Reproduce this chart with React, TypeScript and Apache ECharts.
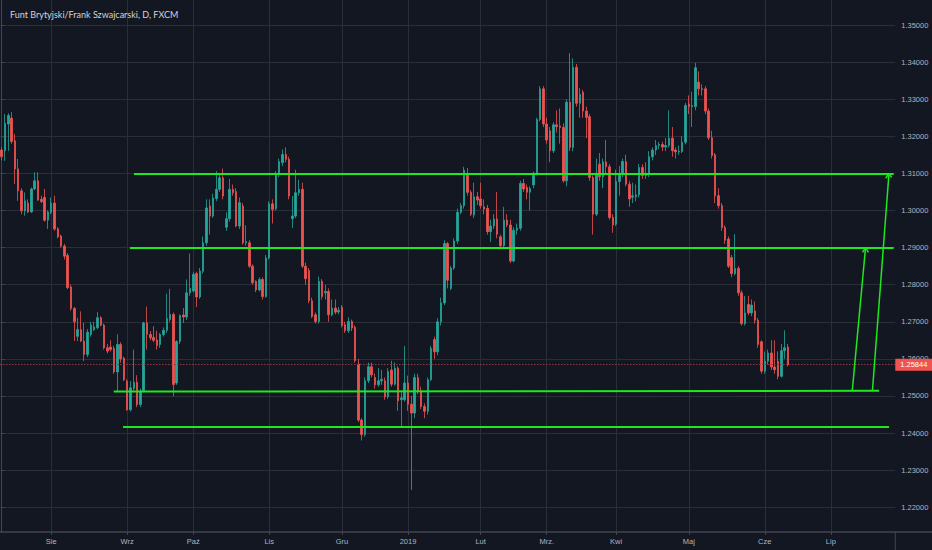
import React, { useEffect, useRef } from 'react';
import * as echarts from 'echarts';

const TITLE = 'Funt Brytyjski/Frank Szwajcarski, D, FXCM';
const START_DATE = '2018-07-11';
const MARKET_HOLIDAYS = ['2018-12-25', '2019-01-01'];
const CATEGORY_COUNT = 271;

const MONTH_TICK_DATES = ['2018-08-01', '2018-09-03', '2018-10-01', '2018-11-01', '2018-12-03', '2019-01-02', '2019-02-01', '2019-03-01', '2019-04-01', '2019-05-01', '2019-06-03', '2019-07-01'];
const MONTH_TICK_LABELS = ['Sie', 'Wrz', 'Paź', 'Lis', 'Gru', '2019', 'Lut', 'Mrz.', 'Kwi', 'Maj', 'Cze', 'Lip'];

const PRICE_TICKS = [1.22, 1.23, 1.24, 1.25, 1.26, 1.27, 1.28, 1.29, 1.3, 1.31, 1.32, 1.33, 1.34, 1.35];
const PRICE_MIN = 1.213342;
const PRICE_MAX = 1.356739;
const LAST_PRICE = 1.25844;

// [open, close, low, high]
const OHLC = [
  [1.3163, 1.3145, 1.3135, 1.3170], [1.3161, 1.3235, 1.3134, 1.3260], [1.3233, 1.3256, 1.3161, 1.3262], [1.3249, 1.3186, 1.3180, 1.3265],
  [1.3188, 1.3112, 1.3071, 1.3206], [1.3112, 1.3053, 1.3026, 1.3139], [1.3053, 1.2999, 1.2990, 1.3060], [1.2999, 1.3026, 1.2986, 1.3049],
  [1.3020, 1.2996, 1.2993, 1.3030], [1.2996, 1.3058, 1.2994, 1.3062], [1.3058, 1.3080, 1.3055, 1.3103], [1.3080, 1.3028, 1.3026, 1.3103],
  [1.3030, 1.3024, 1.3020, 1.3040], [1.3035, 1.2974, 1.2970, 1.3058], [1.2974, 1.2996, 1.2950, 1.3000], [1.2995, 1.3020, 1.2990, 1.3035],
  [1.3020, 1.2950, 1.2945, 1.3040], [1.2951, 1.2929, 1.2925, 1.2955], [1.2931, 1.2904, 1.2900, 1.2935], [1.2904, 1.2877, 1.2868, 1.2910],
  [1.2879, 1.2792, 1.2788, 1.2885], [1.2794, 1.2736, 1.2730, 1.2800], [1.2736, 1.2700, 1.2648, 1.2740], [1.2661, 1.2679, 1.2648, 1.2711],
  [1.2679, 1.2648, 1.2645, 1.2728], [1.2648, 1.2612, 1.2594, 1.2697], [1.2612, 1.2672, 1.2605, 1.2680], [1.2666, 1.2691, 1.2660, 1.2700],
  [1.2679, 1.2686, 1.2675, 1.2700], [1.2684, 1.2711, 1.2680, 1.2726], [1.2711, 1.2691, 1.2688, 1.2715], [1.2691, 1.2630, 1.2625, 1.2695],
  [1.2630, 1.2621, 1.2615, 1.2640], [1.2632, 1.2625, 1.2620, 1.2650], [1.2628, 1.2565, 1.2560, 1.2635], [1.2565, 1.2639, 1.2513, 1.2666],
  [1.2639, 1.2600, 1.2590, 1.2645], [1.2602, 1.2544, 1.2540, 1.2606], [1.2540, 1.2463, 1.2460, 1.2545], [1.2463, 1.2522, 1.2458, 1.2540],
  [1.2520, 1.2537, 1.2515, 1.2625], [1.2537, 1.2477, 1.2470, 1.2556], [1.2477, 1.2513, 1.2470, 1.2520], [1.2514, 1.2697, 1.2510, 1.2700],
  [1.2697, 1.2666, 1.2625, 1.2741], [1.2666, 1.2657, 1.2650, 1.2675], [1.2658, 1.2650, 1.2645, 1.2688], [1.2651, 1.2636, 1.2625, 1.2676],
  [1.2639, 1.2666, 1.2630, 1.2670], [1.2666, 1.2677, 1.2660, 1.2685], [1.2677, 1.2709, 1.2670, 1.2776], [1.2706, 1.2720, 1.2700, 1.2789],
  [1.2720, 1.2531, 1.2499, 1.2725], [1.2535, 1.2647, 1.2530, 1.2650], [1.2647, 1.2717, 1.2640, 1.2720], [1.2718, 1.2713, 1.2697, 1.2737],
  [1.2713, 1.2778, 1.2705, 1.2814], [1.2778, 1.2790, 1.2770, 1.2884], [1.2783, 1.2828, 1.2780, 1.2835], [1.2830, 1.2767, 1.2740, 1.2835],
  [1.2767, 1.2837, 1.2762, 1.2845], [1.2836, 1.2913, 1.2830, 1.2930], [1.2913, 1.3007, 1.2905, 1.3030], [1.3012, 1.2985, 1.2935, 1.3030],
  [1.2985, 1.3034, 1.2980, 1.3045], [1.3032, 1.3057, 1.3025, 1.3106], [1.3057, 1.3088, 1.3050, 1.3101], [1.3088, 1.3039, 1.3030, 1.3113],
  [1.2955, 1.2978, 1.2945, 1.2995], [1.2978, 1.3057, 1.2970, 1.3085], [1.3057, 1.3048, 1.3040, 1.3070], [1.3051, 1.2958, 1.2955, 1.3060],
  [1.2958, 1.3021, 1.2950, 1.3035], [1.3012, 1.2913, 1.2908, 1.3020], [1.2913, 1.2916, 1.2905, 1.2960], [1.2913, 1.2850, 1.2845, 1.2920],
  [1.2850, 1.2805, 1.2800, 1.2855], [1.2809, 1.2786, 1.2780, 1.2812], [1.2786, 1.2814, 1.2782, 1.2820], [1.2814, 1.2768, 1.2760, 1.2820],
  [1.2768, 1.2872, 1.2765, 1.2880], [1.2872, 1.3018, 1.2868, 1.3025], [1.3018, 1.3003, 1.2965, 1.3030], [1.3005, 1.3097, 1.3000, 1.3106],
  [1.3097, 1.3132, 1.3090, 1.3140], [1.3129, 1.3151, 1.3120, 1.3165], [1.3151, 1.3138, 1.3130, 1.3170], [1.3138, 1.3039, 1.3030, 1.3145],
  [1.2978, 1.2985, 1.2953, 1.3039], [1.2985, 1.3048, 1.2980, 1.3110], [1.3048, 1.3057, 1.3040, 1.3083], [1.3057, 1.2850, 1.2845, 1.3075],
  [1.2850, 1.2816, 1.2800, 1.2860], [1.2838, 1.2757, 1.2750, 1.2845], [1.2757, 1.2714, 1.2710, 1.2765], [1.2719, 1.2701, 1.2695, 1.2725],
  [1.2701, 1.2809, 1.2695, 1.2822], [1.2809, 1.2768, 1.2760, 1.2815], [1.2778, 1.2782, 1.2760, 1.2800], [1.2782, 1.2719, 1.2700, 1.2790],
  [1.2719, 1.2737, 1.2715, 1.2760], [1.2737, 1.2726, 1.2720, 1.2760], [1.2727, 1.2731, 1.2720, 1.2740], [1.2739, 1.2690, 1.2685, 1.2745],
  [1.2692, 1.2676, 1.2670, 1.2700], [1.2676, 1.2701, 1.2670, 1.2712], [1.2701, 1.2683, 1.2675, 1.2706], [1.2685, 1.2595, 1.2590, 1.2690],
  [1.2586, 1.2435, 1.2430, 1.2600], [1.2435, 1.2396, 1.2380, 1.2440], [1.2396, 1.2541, 1.2390, 1.2550], [1.2541, 1.2579, 1.2535, 1.2590],
  [1.2579, 1.2557, 1.2550, 1.2590], [1.2550, 1.2530, 1.2520, 1.2560], [1.2530, 1.2541, 1.2525, 1.2575], [1.2541, 1.2545, 1.2530, 1.2570],
  [1.2541, 1.2498, 1.2490, 1.2550], [1.2498, 1.2566, 1.2492, 1.2575], [1.2570, 1.2532, 1.2525, 1.2595], [1.2532, 1.2575, 1.2528, 1.2590],
  [1.2575, 1.2487, 1.2460, 1.2580], [1.2490, 1.2495, 1.2414, 1.2510], [1.2490, 1.2535, 1.2485, 1.2635], [1.2535, 1.2478, 1.2460, 1.2555],
  [1.2478, 1.2454, 1.2247, 1.2500], [1.2454, 1.2550, 1.2440, 1.2560], [1.2550, 1.2514, 1.2505, 1.2560], [1.2514, 1.2472, 1.2465, 1.2525],
  [1.2472, 1.2459, 1.2440, 1.2480], [1.2459, 1.2544, 1.2450, 1.2550], [1.2544, 1.2628, 1.2540, 1.2635], [1.2652, 1.2619, 1.2600, 1.2660],
  [1.2619, 1.2700, 1.2610, 1.2710], [1.2700, 1.2751, 1.2690, 1.2765], [1.2751, 1.2911, 1.2745, 1.2920], [1.2911, 1.2812, 1.2790, 1.2915],
  [1.2790, 1.2845, 1.2785, 1.2850], [1.2845, 1.2918, 1.2840, 1.2925], [1.2918, 1.2995, 1.2910, 1.3005], [1.2995, 1.3013, 1.2990, 1.3020],
  [1.3013, 1.3109, 1.3005, 1.3118], [1.3098, 1.3049, 1.3040, 1.3115], [1.3049, 1.2990, 1.2985, 1.3055], [1.2988, 1.3037, 1.2980, 1.3075],
  [1.3037, 1.3028, 1.3015, 1.3050], [1.3031, 1.3013, 1.3005, 1.3075], [1.3010, 1.3004, 1.2990, 1.3030], [1.3006, 1.2943, 1.2935, 1.3015],
  [1.2943, 1.2958, 1.2915, 1.2975], [1.2958, 1.2977, 1.2950, 1.2990], [1.2977, 1.2936, 1.2925, 1.3050], [1.2929, 1.2905, 1.2895, 1.2935],
  [1.2905, 1.2974, 1.2900, 1.3010], [1.2974, 1.2961, 1.2955, 1.2990], [1.2961, 1.2864, 1.2858, 1.2975], [1.2864, 1.2947, 1.2860, 1.2955],
  [1.2947, 1.2952, 1.2935, 1.2965], [1.2952, 1.3073, 1.2945, 1.3080], [1.3073, 1.3058, 1.3050, 1.3085], [1.3062, 1.3049, 1.3030, 1.3070],
  [1.3049, 1.3059, 1.3000, 1.3065], [1.3069, 1.3100, 1.3060, 1.3105], [1.3100, 1.3245, 1.3095, 1.3250], [1.3245, 1.3328, 1.3240, 1.3335],
  [1.3328, 1.3233, 1.3225, 1.3335], [1.3233, 1.3190, 1.3180, 1.3250], [1.3215, 1.3161, 1.3130, 1.3225], [1.3161, 1.3231, 1.3155, 1.3238],
  [1.3231, 1.3226, 1.3210, 1.3270], [1.3228, 1.3224, 1.3180, 1.3275], [1.3224, 1.3080, 1.3075, 1.3235], [1.3080, 1.3292, 1.3065, 1.3300],
  [1.3292, 1.3170, 1.3160, 1.3424], [1.3170, 1.3386, 1.3160, 1.3410], [1.3386, 1.3289, 1.3280, 1.3395], [1.3289, 1.3313, 1.3250, 1.3330],
  [1.3319, 1.3268, 1.3250, 1.3325], [1.3268, 1.3251, 1.3195, 1.3280], [1.3253, 1.3089, 1.3080, 1.3260], [1.3089, 1.2990, 1.2935, 1.3095],
  [1.2990, 1.3100, 1.2985, 1.3140], [1.3125, 1.3091, 1.3080, 1.3155], [1.3091, 1.3131, 1.3060, 1.3140], [1.3131, 1.3118, 1.3100, 1.3190],
  [1.3118, 1.2981, 1.2975, 1.3125], [1.2981, 1.2961, 1.2940, 1.2990], [1.2963, 1.3078, 1.2958, 1.3110], [1.3078, 1.3100, 1.3040, 1.3120],
  [1.3100, 1.3132, 1.3090, 1.3140], [1.3132, 1.3071, 1.3065, 1.3150], [1.3071, 1.3031, 1.3010, 1.3080], [1.3036, 1.3040, 1.3020, 1.3075],
  [1.3037, 1.3042, 1.3025, 1.3070], [1.3042, 1.3116, 1.3035, 1.3125], [1.3116, 1.3094, 1.3085, 1.3125], [1.3094, 1.3098, 1.3085, 1.3130],
  [1.3098, 1.3145, 1.3090, 1.3160], [1.3145, 1.3163, 1.3135, 1.3170], [1.3163, 1.3175, 1.3150, 1.3190], [1.3175, 1.3178, 1.3165, 1.3185],
  [1.3178, 1.3171, 1.3160, 1.3185], [1.3171, 1.3175, 1.3160, 1.3195], [1.3175, 1.3195, 1.3170, 1.3270], [1.3195, 1.3161, 1.3145, 1.3225],
  [1.3163, 1.3158, 1.3140, 1.3170], [1.3158, 1.3160, 1.3150, 1.3175], [1.3159, 1.3184, 1.3155, 1.3200], [1.3184, 1.3283, 1.3178, 1.3290],
  [1.3287, 1.3280, 1.3260, 1.3310], [1.3280, 1.3283, 1.3225, 1.3320], [1.3280, 1.3385, 1.3270, 1.3398], [1.3346, 1.3328, 1.3310, 1.3375],
  [1.3328, 1.3326, 1.3310, 1.3340], [1.3328, 1.3268, 1.3260, 1.3335], [1.3268, 1.3196, 1.3190, 1.3275], [1.3196, 1.3148, 1.3140, 1.3215],
  [1.3150, 1.3040, 1.3020, 1.3155], [1.3040, 1.3013, 1.3005, 1.3060], [1.3013, 1.2954, 1.2945, 1.3020], [1.2954, 1.2920, 1.2910, 1.2960],
  [1.2923, 1.2850, 1.2845, 1.2930], [1.2873, 1.2830, 1.2820, 1.2880], [1.2830, 1.2844, 1.2825, 1.2936], [1.2844, 1.2778, 1.2770, 1.2850],
  [1.2778, 1.2695, 1.2690, 1.2785], [1.2695, 1.2724, 1.2690, 1.2770], [1.2747, 1.2724, 1.2718, 1.2770], [1.2724, 1.2745, 1.2715, 1.2760],
  [1.2729, 1.2704, 1.2695, 1.2755], [1.2704, 1.2639, 1.2630, 1.2710], [1.2646, 1.2567, 1.2560, 1.2650], [1.2567, 1.2594, 1.2560, 1.2620],
  [1.2594, 1.2616, 1.2585, 1.2625], [1.2616, 1.2578, 1.2570, 1.2650], [1.2578, 1.2571, 1.2560, 1.2650], [1.2594, 1.2553, 1.2545, 1.2620],
  [1.2553, 1.2622, 1.2550, 1.2640], [1.2622, 1.2630, 1.2600, 1.2677], [1.2632, 1.25844, 1.2580, 1.2640],
];

// Drawn support/resistance levels: [[barIndex, price], [barIndex, price]]
const LEVEL_LINES = [
  [[40.06, 1.3100], [270.0, 1.3100]],
  [[38.85, 1.2900], [270.0, 1.2900]],
  [[33.93, 1.2512], [265.6, 1.2514]],
  [[36.74, 1.2417], [268.6, 1.2417]],
];
// Drawn arrows: shaft and two head strokes
const ARROW_LINES = [
  [[257.5, 1.2515], [261.5, 1.2900]],
  [[261.5, 1.2900], [260.6, 1.2887]],
  [[261.5, 1.2900], [262.4, 1.2887]],
  [[263.6, 1.2515], [268.6, 1.3100]],
  [[268.6, 1.3100], [267.6, 1.3087]],
  [[268.6, 1.3100], [269.4, 1.3089]],
];

const BG = '#131722';
const GRID = '#2a2e39';
const TEXT = '#b2b5be';
const UP = '#26a69a';
const DOWN = '#ef5350';
const GREEN = '#1ee81e';
const PRICE_LINE = '#8f3a40';
const FONT = 'Liberation Sans';

function buildTradingDays(start: string, count: number, holidays: string[]) {
  const out: string[] = [];
  const d = new Date(start + 'T00:00:00Z');
  while (out.length < count) {
    const wd = d.getUTCDay();
    const iso = d.toISOString().slice(0, 10);
    if (wd !== 0 && wd !== 6 && holidays.indexOf(iso) < 0) out.push(iso);
    d.setUTCDate(d.getUTCDate() + 1);
  }
  return out;
}

export default function App() {
  const ref = useRef<HTMLDivElement>(null);
  useEffect(() => {
    document.body.style.margin = '0';
    if (!ref.current) return;
    const chart = echarts.init(ref.current, undefined, { renderer: 'svg' });
    const days = buildTradingDays(START_DATE, CATEGORY_COUNT, MARKET_HOLIDAYS);
    const isMonthTick = (idx: number) => MONTH_TICK_DATES.indexOf(days[idx]) >= 0;
    const gridLeft = -2.34;
    const gridWidth = 897.6;
    const option: any = {
      animation: false,
      backgroundColor: BG,
      title: {
        text: TITLE,
        left: 5,
        top: 5,
        textStyle: { color: '#d1d4dc', fontSize: 9, fontFamily: 'Lato', fontWeight: 'normal' },
      },
      grid: { left: gridLeft, top: 0, width: gridWidth, height: 532, containLabel: false },
      xAxis: [
        {
          type: 'category',
          data: days,
          boundaryGap: true,
          axisLine: { show: true, lineStyle: { color: '#434651', width: 1.5 } },
          axisTick: { show: true, interval: (i: number) => isMonthTick(i), alignWithLabel: true, length: 3, lineStyle: { color: '#434651' } },
          axisLabel: {
            interval: (i: number) => isMonthTick(i),
            formatter: (v: string) => {
              const k = MONTH_TICK_DATES.indexOf(v);
              return k >= 0 ? MONTH_TICK_LABELS[k] : '';
            },
            color: TEXT,
            fontSize: 7.5,
            fontFamily: FONT,
            margin: 5,
          },
          splitLine: { show: true, interval: (i: number) => isMonthTick(i), alignWithLabel: true, lineStyle: { color: GRID, width: 1 } },
        },
        { type: 'value', show: false, min: -0.5, max: CATEGORY_COUNT - 0.5, splitLine: { show: false } },
      ],
      yAxis: {
        type: 'value',
        position: 'right',
        min: PRICE_MIN,
        max: PRICE_MAX,
        axisLine: { show: true, lineStyle: { color: '#434651', width: 1 } },
        axisTick: { show: true, customValues: PRICE_TICKS, length: 3, lineStyle: { color: '#434651' } },
        axisLabel: {
          customValues: PRICE_TICKS,
          formatter: (v: number) => v.toFixed(5),
          color: TEXT,
          fontSize: 7.5,
          fontFamily: FONT,
          margin: 6,
        },
        splitLine: { show: true, lineStyle: { color: GRID, width: 1 } },
      },
      series: [
        {
          type: 'candlestick',
          data: OHLC,
          barWidth: 2,
          itemStyle: { color: UP, color0: DOWN, borderColor: UP, borderColor0: DOWN, borderWidth: 0.8 },
          markLine: {
            silent: true,
            precision: 5,
            symbol: ['none', 'none'],
            animation: false,
            data: [{ yAxis: LAST_PRICE }],
            lineStyle: { color: PRICE_LINE, type: [1.5, 1.5], width: 1.2 },
            label: {
              show: true,
              position: 'end',
              distance: 0,
              align: 'left',
              verticalAlign: 'middle',
              formatter: () => LAST_PRICE.toFixed(5),
              backgroundColor: '#f05350',
              color: '#ffffff',
              fontSize: 7.5,
              fontFamily: FONT,
              padding: [2, 5, 2, 5],
            },
          },
        },
        {
          type: 'line',
          xAxisIndex: 1,
          yAxisIndex: 0,
          data: [],
          silent: true,
          markLine: {
            silent: true,
            precision: 5,
            symbol: ['none', 'none'],
            animation: false,
            label: { show: false },
            lineStyle: { color: GREEN, width: 2, type: 'solid', opacity: 1 },
            data: [
              ...LEVEL_LINES.map((s) => [{ coord: s[0] }, { coord: s[1] }]),
              ...ARROW_LINES.map((s) => [{ coord: s[0], lineStyle: { width: 1.5 } }, { coord: s[1] }]),
            ],
          },
        },
      ],
      graphic: [
        { type: 'line', shape: { x1: gridLeft + gridWidth, y1: 532, x2: gridLeft + gridWidth, y2: 550 }, style: { stroke: '#434651', lineWidth: 1 } },
        { type: 'line', shape: { x1: gridLeft + gridWidth, y1: 532, x2: 932, y2: 532 }, style: { stroke: '#434651', lineWidth: 1.5 } },
      ],
    };
    chart.setOption(option);
    return () => chart.dispose();
  }, []);
  return <div ref={ref} style={{ width: 932, height: 550, background: BG }} />;
}
